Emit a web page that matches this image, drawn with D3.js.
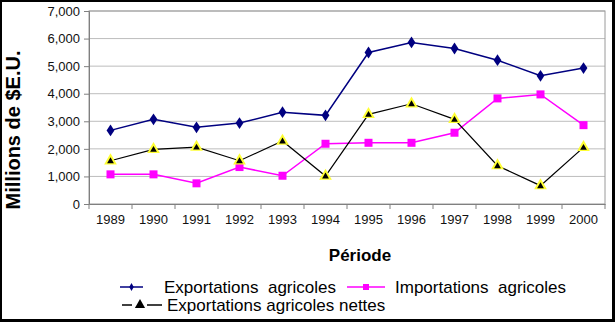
<!DOCTYPE html>
<html><head><meta charset="utf-8">
<script src="https://cdn.jsdelivr.net/npm/d3@7"></script>
<style>body{margin:0;background:#fff}svg{display:block}text{font-family:"Liberation Sans",Arial,sans-serif}</style>
</head><body>
<script>
const years = ["1989","1990","1991","1992","1993","1994","1995","1996","1997","1998","1999","2000"];
const exportations = [2670,3070,2780,2935,3330,3215,5495,5860,5640,5215,4650,4930];
const importations = [1075,1075,750,1340,1025,2185,2220,2220,2585,3830,3975,2860];
const nettes = [1570,1980,2065,1570,2285,1015,3250,3635,3070,1390,665,2055];
const yTicks = [0,1000,2000,3000,4000,5000,6000,7000];
const legendLabels = ["Exportations  agricoles","Importations  agricoles","Exportations agricoles nettes"];

const W=615,H=322;
const svg=d3.select("body").append("svg").attr("width",W).attr("height",H);
svg.append("rect").attr("width",W).attr("height",H).attr("fill","#000");
svg.append("rect").attr("x",2).attr("y",2).attr("width",610).attr("height",317).attr("fill","#fff");

const L=89,R=605,T=11,B=204;
const x=d3.scaleBand().domain(years).range([L,R]).padding(0);
const y=d3.scaleLinear().domain([0,7000]).range([B,T]);

// gridlines
svg.append("g").selectAll("line").data(yTicks.slice(1)).join("line")
 .attr("x1",L).attr("x2",R).attr("y1",d=>y(d)).attr("y2",d=>y(d))
 .attr("stroke","#bdbdbd").attr("stroke-width",1);
// plot border
svg.append("rect").attr("x",L).attr("y",T).attr("width",R-L).attr("height",B-T)
 .attr("fill","none").attr("stroke","#9a9a9a").attr("stroke-width",1);

// y axis
const yAxis=d3.axisLeft(y).tickValues(yTicks).tickSize(5).tickPadding(4).tickFormat(d3.format(","));
const gy=svg.append("g").attr("transform",`translate(${L},0)`).call(yAxis);
gy.select(".domain").attr("stroke","#808080");
gy.selectAll(".tick line").attr("stroke","#808080");
gy.selectAll("text").style("font-size","13px").attr("fill","#111");

// x axis
const xAxis=d3.axisBottom(x).tickSize(0).tickPadding(11);
const gx=svg.append("g").attr("transform",`translate(0,${B})`).call(xAxis);
gx.select(".domain").attr("stroke","#808080");
gx.selectAll("text").style("font-size","13px").attr("fill","#111");
// x tick marks at category boundaries
const bounds=years.map(d=>x(d)).concat([x(years[years.length-1])+x.bandwidth()]);
svg.append("g").selectAll("line").data(bounds).join("line")
 .attr("x1",d=>d).attr("x2",d=>d).attr("y1",B).attr("y2",B+5)
 .attr("stroke","#808080");

const cx=d=>x(d)+x.bandwidth()/2;
const line=d3.line().x((d,i)=>cx(years[i])).y(d=>y(d));

// series lines
svg.append("path").datum(exportations).attr("d",line).attr("fill","none").attr("stroke","#000080").attr("stroke-width",1.5);
svg.append("path").datum(importations).attr("d",line).attr("fill","none").attr("stroke","#ff00ff").attr("stroke-width",1.5);
svg.append("path").datum(nettes).attr("d",line).attr("fill","none").attr("stroke","#000").attr("stroke-width",1.2);

// markers
const diamond=d3.symbol().type(d3.symbolDiamond).size(40);
svg.append("g").selectAll("path").data(exportations).join("path")
 .attr("d",diamond).attr("transform",(d,i)=>`translate(${cx(years[i])},${y(d)}) scale(1.15,1)`).attr("fill","#000080");
svg.append("g").selectAll("rect").data(importations).join("rect")
 .attr("x",(d,i)=>cx(years[i])-4).attr("y",d=>y(d)-4).attr("width",8).attr("height",8).attr("fill","#ff00ff");
const triBig=d3.symbol().type(d3.symbolTriangle).size(70);
const triSmall=d3.symbol().type(d3.symbolTriangle).size(20);
const gt=svg.append("g");
gt.selectAll("path.b").data(nettes).join("path").attr("class","b")
 .attr("d",triBig).attr("transform",(d,i)=>`translate(${cx(years[i])},${y(d)})`).attr("fill","#ffff33");
gt.selectAll("path.s").data(nettes).join("path").attr("class","s")
 .attr("d",triSmall).attr("transform",(d,i)=>`translate(${cx(years[i])},${y(d)+0.5})`).attr("fill","#000");

// axis titles
svg.append("text").attr("x",360).attr("y",261).attr("text-anchor","middle")
 .attr("font-size",17).attr("font-weight","bold").text("Période");
svg.append("text").attr("transform","translate(20,130) rotate(-90)").attr("text-anchor","middle")
 .attr("font-size",20).attr("font-weight","bold").text("Millions de $E.U.");

// legend
const lg=svg.append("g");
// row 1 - exportations
lg.append("line").attr("x1",120).attr("x2",143).attr("y1",287).attr("y2",287).attr("stroke","#000080").attr("stroke-width",1.5);
lg.append("path").attr("d",d3.symbol().type(d3.symbolDiamond).size(18)).attr("transform","translate(131.5,287)").attr("fill","#000080");
lg.append("text").attr("x",164).attr("y",293).attr("font-size",17).style("white-space","pre").text(legendLabels[0]);
// row 1 - importations
lg.append("line").attr("x1",347).attr("x2",385).attr("y1",287).attr("y2",287).attr("stroke","#ff00ff").attr("stroke-width",1.5);
lg.append("rect").attr("x",363).attr("y",284).attr("width",6).attr("height",6).attr("fill","#ff00ff");
lg.append("text").attr("x",395).attr("y",293).attr("font-size",17).style("white-space","pre").text(legendLabels[1]);
// row 2 - nettes
lg.append("line").attr("x1",122).attr("x2",132).attr("y1",305).attr("y2",305).attr("stroke","#000").attr("stroke-width",1.5);
lg.append("line").attr("x1",147).attr("x2",162).attr("y1",305).attr("y2",305).attr("stroke","#000").attr("stroke-width",1.5);
lg.append("path").attr("d",d3.symbol().type(d3.symbolTriangle).size(45)).attr("transform","translate(140,305)").attr("fill","#000");
lg.append("text").attr("x",167).attr("y",311).attr("font-size",17).text(legendLabels[2]);
</script>
</body></html>
